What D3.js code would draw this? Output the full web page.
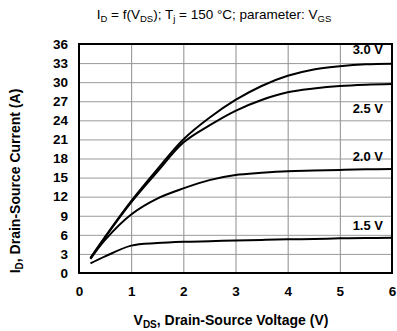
<!DOCTYPE html>
<html>
<head>
<meta charset="utf-8">
<script src="https://cdn.jsdelivr.net/npm/d3@7"></script>
<style>
  body { margin: 0; background: #fff; }
  svg { display: block; font-family: "Liberation Sans", Arial, sans-serif; }
</style>
</head>
<body>
<svg id="chart" width="397" height="331"></svg>
<script>
// Output characteristic I_D = f(V_DS) at Tj = 150 °C, one curve per gate voltage
const vds = [0.22, 0.5, 1, 1.5, 2, 2.5, 3, 3.5, 4, 4.5, 5, 5.5, 6];
const vgsLabels = ["1.5 V", "2.0 V", "2.5 V", "3.0 V"];
const id15 = [1.5, 2.6, 4.3, 4.7, 4.9, 5.0, 5.1, 5.2, 5.3, 5.35, 5.45, 5.5, 5.55];
const id20 = [2.2, 5.2, 9.2, 11.7, 13.3, 14.6, 15.4, 15.75, 16.0, 16.1, 16.2, 16.3, 16.35];
const id25 = [2.3, 5.6, 11.1, 15.9, 20.5, 23.2, 25.5, 27.2, 28.4, 29.0, 29.4, 29.6, 29.7];
const id30 = [2.4, 5.7, 11.3, 16.3, 21.0, 24.4, 27.2, 29.4, 31.0, 32.0, 32.5, 32.8, 32.9];
const xTicks = [0, 1, 2, 3, 4, 5, 6];
const yTicks = [0, 3, 6, 9, 12, 15, 18, 21, 24, 27, 30, 33, 36];

const series = [id15, id20, id25, id30];

const svg = d3.select("#chart");
const m = { left: 79, right: 392, top: 44, bottom: 273 };

const x = d3.scaleLinear().domain([0, 6]).range([m.left, m.right]);
const y = d3.scaleLinear().domain([0, 36]).range([m.bottom, m.top]);

// grid
svg.append("g")
  .attr("transform", `translate(0,${m.bottom})`)
  .call(d3.axisBottom(x).tickValues(xTicks).tickSize(-(m.bottom - m.top)).tickFormat(""))
  .call(g => g.select(".domain").remove())
  .call(g => g.selectAll("line").attr("stroke", "#8c8c8c").attr("stroke-width", 1));
svg.append("g")
  .attr("transform", `translate(${m.left},0)`)
  .call(d3.axisLeft(y).tickValues(yTicks).tickSize(-(m.right - m.left)).tickFormat(""))
  .call(g => g.select(".domain").remove())
  .call(g => g.selectAll("line").attr("stroke", "#9a9a9a").attr("stroke-width", 1));

// tick labels
svg.append("g")
  .attr("transform", `translate(0,${m.bottom})`)
  .call(d3.axisBottom(x).tickValues(xTicks).tickSize(0).tickPadding(13).tickFormat(d3.format("d")))
  .call(g => g.select(".domain").remove())
  .call(g => g.selectAll("text").attr("font-size", 13.5).attr("font-weight", "bold")
    .attr("font-family", "Liberation Sans, Arial, sans-serif").attr("fill", "#000"));
svg.append("g")
  .attr("transform", `translate(${m.left},0)`)
  .call(d3.axisLeft(y).tickValues(yTicks).tickSize(0).tickPadding(11).tickFormat(d3.format("d")))
  .call(g => g.select(".domain").remove())
  .call(g => g.selectAll("text").attr("font-size", 13.5).attr("font-weight", "bold")
    .attr("font-family", "Liberation Sans, Arial, sans-serif").attr("fill", "#000"));

// curves
const line = d3.line()
  .x((d, i) => x(vds[i]))
  .y(d => y(d))
  .curve(d3.curveCatmullRom.alpha(0.5));

svg.append("g").selectAll("path")
  .data(series)
  .join("path")
  .attr("d", line)
  .attr("fill", "none")
  .attr("stroke", "#000")
  .attr("stroke-width", 2);

// frame
svg.append("rect")
  .attr("x", m.left).attr("y", m.top)
  .attr("width", m.right - m.left).attr("height", m.bottom - m.top)
  .attr("fill", "none").attr("stroke", "#000").attr("stroke-width", 2);

// curve labels
const labelY = [5.6 + 1.2, 16.35 + 1.2, 29.7 - 4.6, 32.9 + 1.5];
svg.append("g").selectAll("text")
  .data(vgsLabels)
  .join("text")
  .attr("x", 383)
  .attr("y", (d, i) => y(labelY[i]))
  .attr("text-anchor", "end")
  .attr("font-size", 13)
  .attr("font-weight", "bold")
  .text(d => d);

// title
const title = svg.append("text")
  .attr("x", 214).attr("y", 19)
  .attr("text-anchor", "middle")
  .attr("font-size", 13.5);
title.append("tspan").text("I");
title.append("tspan").attr("font-size", 9.5).attr("dy", 3).text("D");
title.append("tspan").attr("dy", -3).text(" = f(V");
title.append("tspan").attr("font-size", 9.5).attr("dy", 3).text("DS");
title.append("tspan").attr("dy", -3).text("); T");
title.append("tspan").attr("font-size", 9.5).attr("dy", 3).text("j");
title.append("tspan").attr("dy", -3).text(" = 150 °C; parameter: V");
title.append("tspan").attr("font-size", 9.5).attr("dy", 3).text("GS");

// x-axis title
const xt = svg.append("text")
  .attr("x", 231).attr("y", 325)
  .attr("text-anchor", "middle")
  .attr("font-size", 14).attr("font-weight", "bold");
xt.append("tspan").text("V");
xt.append("tspan").attr("font-size", 10).attr("dy", 3).text("DS");
xt.append("tspan").attr("dy", -3).text(", Drain-Source Voltage (V)");

// y-axis title
const yt = svg.append("text")
  .attr("transform", "translate(20,181) rotate(-90)")
  .attr("text-anchor", "middle")
  .attr("font-size", 14).attr("font-weight", "bold");
yt.append("tspan").text("I");
yt.append("tspan").attr("font-size", 10).attr("dy", 3).text("D");
yt.append("tspan").attr("dy", -3).text(", Drain-Source Current (A)");
</script>
</body>
</html>
